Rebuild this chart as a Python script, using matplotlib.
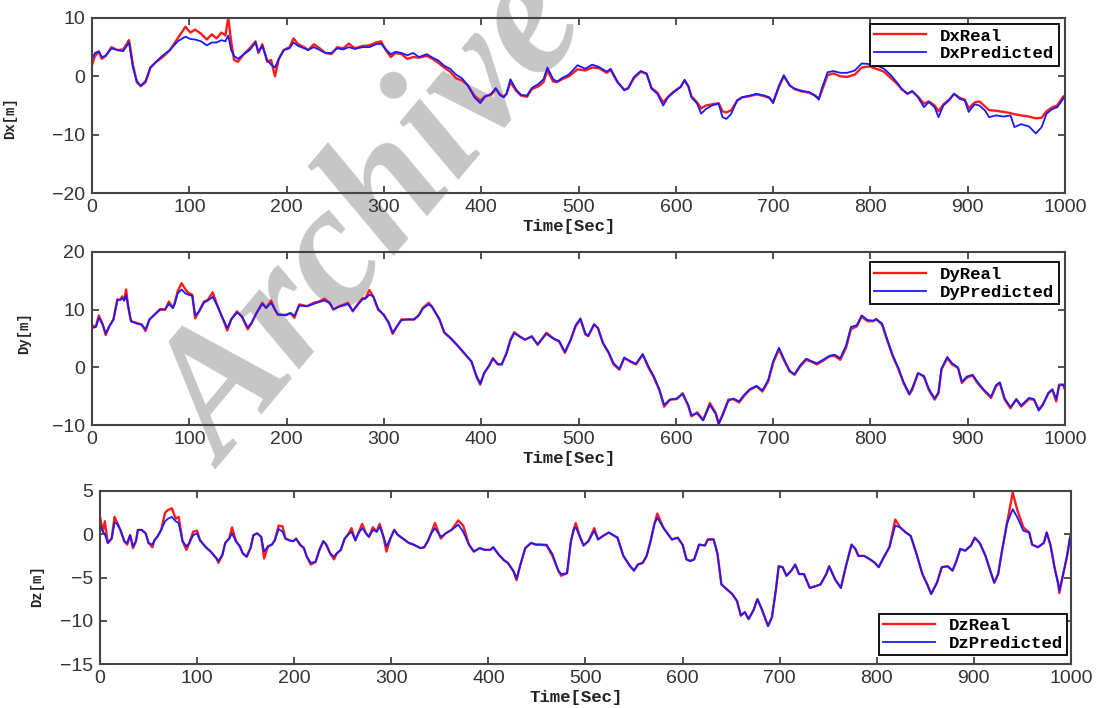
import matplotlib.pyplot as plt

# ---- Dx panel ----
t_x = [0, 3, 7, 10, 14, 20, 26, 32, 38, 42,
       46, 50, 55, 60, 66, 72, 80, 88, 96, 101,
       106, 112, 118, 123, 128, 133, 137, 140, 143, 146,
       150, 156, 162, 168, 171, 175, 180, 184, 188, 192,
       197, 203, 207, 212, 218, 222, 228, 234, 240, 246,
       252, 258, 264, 270, 278, 285, 292, 297, 302, 307,
       312, 318, 324, 330, 336, 344, 350, 356, 362, 368,
       374, 380, 386, 393, 399, 404, 410, 415, 419, 423,
       426, 430, 436, 441, 447, 452, 459, 464, 468, 474,
       478, 483, 490, 499, 507, 514, 521, 529, 533, 540,
       547, 551, 557, 564, 570, 575, 581, 587, 592, 598,
       605, 609, 613, 616, 622, 626, 631, 637, 644, 648,
       652, 657, 663, 668, 676, 683, 691, 696, 700, 706,
       711, 717, 722, 730, 737, 743, 747, 750, 756, 762,
       769, 776, 784, 791, 799, 806, 814, 821, 827, 832,
       838, 843, 849, 855, 860, 866, 870, 875, 881, 886,
       892, 897, 901, 907, 912, 918, 922, 929, 937, 944,
       948, 955, 963, 970, 976, 981, 987, 992, 998, 1000]
dx_real = [2.0, 3.5, 4.2, 3.0, 3.5, 5.0, 4.5, 4.6, 6.2, 2.0,
           -1.0, -1.7, -1.0, 1.5, 2.5, 3.2, 4.5, 6.5, 8.5, 7.5,
           8.0, 7.3, 6.3, 7.2, 6.5, 7.5, 7.0, 10.0, 6.0, 2.8,
           2.5, 3.8, 4.8, 6.0, 4.0, 5.5, 2.5, 2.8, 0.0, 3.0,
           4.5, 5.0, 6.5, 5.5, 5.0, 4.5, 5.5, 4.8, 4.0, 3.8,
           5.0, 4.8, 5.6, 4.8, 5.2, 5.3, 5.8, 6.0, 4.5, 3.3,
           4.0, 3.8, 3.0, 3.3, 3.2, 3.5, 3.0, 2.3, 1.5, 0.8,
           -0.3, -0.7, -1.5, -3.3, -4.2, -3.4, -3.2, -2.2, -3.0, -3.5,
           -3.0, -1.0, -2.5, -3.3, -3.5, -2.2, -1.7, -1.0, 1.0, -0.9,
           -1.0, -0.5, 0.0, 1.2, 1.0, 1.5, 1.4, 0.6, 1.1, -1.0,
           -2.3, -2.0, -0.3, 0.8, 0.4, -2.0, -2.8, -4.5, -3.5, -2.6,
           -1.8, -0.7, -1.8, -3.4, -4.5, -5.5, -5.0, -4.8, -4.6, -6.0,
           -6.2, -5.8, -4.2, -3.6, -3.4, -3.1, -3.4, -3.7, -4.4, -1.8,
           0.0, -1.5, -2.2, -2.6, -2.8, -3.3, -3.8, -2.5, 0.2, 0.5,
           0.0, -0.1, 0.3, 1.5, 1.7, 1.3, 0.8, -0.3, -1.2, -2.2,
           -3.0, -2.6, -3.5, -4.7, -4.3, -5.0, -6.0, -4.8, -4.0, -3.0,
           -3.7, -4.0, -5.5, -4.5, -4.3, -5.2, -5.8, -5.9, -6.1, -6.3,
           -6.5, -6.7, -6.9, -7.2, -7.1, -6.0, -5.3, -5.0, -3.5, -3.3]
dx_pred = [3.0, 4.0, 4.3, 3.3, 3.5, 4.8, 4.5, 4.3, 5.8, 1.5,
           -0.8, -1.6, -0.8, 1.5, 2.5, 3.5, 4.5, 6.0, 6.8, 6.4,
           6.3, 6.0, 5.3, 5.8, 5.8, 6.2, 6.0, 7.0, 4.5, 3.5,
           3.0, 3.8, 4.5, 5.8, 4.2, 5.2, 2.8, 2.0, 1.5, 3.0,
           4.5, 4.8, 5.8, 5.2, 4.8, 4.5, 5.0, 4.5, 4.0, 4.0,
           4.8, 4.6, 5.0, 4.7, 5.0, 5.0, 5.5, 5.6, 4.6, 3.8,
           4.2, 4.0, 3.6, 4.0, 3.3, 3.8, 3.2, 2.7, 1.8, 1.3,
           0.3, -0.3, -1.5, -3.6, -4.6, -3.5, -3.0, -2.0, -3.2, -3.6,
           -3.0, -0.5, -2.3, -3.2, -3.3, -2.0, -1.3, -0.5, 1.5, -0.5,
           -0.9, -0.3, 0.3, 1.9, 1.3, 2.0, 1.6, 0.8, 1.3, -0.9,
           -2.4, -2.1, -0.1, 0.9, 0.5, -2.1, -3.0, -5.0, -3.6, -2.7,
           -1.8, -0.6, -1.7, -3.6, -4.7, -6.4, -5.6, -5.0, -4.7, -7.0,
           -7.3, -6.4, -4.1, -3.6, -3.3, -3.0, -3.3, -3.6, -4.6, -1.6,
           0.2, -1.6, -2.1, -2.5, -2.7, -3.3, -4.0, -2.1, 0.7, 0.9,
           0.6, 0.6, 1.0, 2.2, 2.1, 1.9, 1.3, 0.2, -1.0, -2.1,
           -3.0, -2.5, -3.6, -5.3, -4.4, -5.3, -7.0, -5.0, -4.1, -3.0,
           -3.9, -4.1, -6.1, -4.8, -5.0, -5.9, -7.0, -6.7, -6.9, -6.7,
           -8.7, -8.2, -8.6, -9.8, -8.7, -6.4, -5.6, -5.3, -3.9, -3.3]

# ---- Dy panel ----
t_y = [0, 4, 7, 11, 14, 18, 22, 26, 29, 31,
       33, 35, 37, 40, 46, 51, 55, 59, 64, 70,
       75, 79, 83, 85, 88, 92, 96, 99, 103, 106,
       110, 115, 119, 124, 129, 134, 139, 143, 149, 154,
       160, 164, 169, 175, 179, 184, 188, 191, 199, 204,
       208, 213, 221, 228, 233, 239, 244, 248, 254, 259,
       263, 268, 274, 278, 281, 285, 289, 294, 300, 305,
       309, 313, 318, 325, 331, 336, 340, 346, 349, 357,
       362, 368, 375, 382, 390, 395, 399, 403, 408, 412,
       417, 421, 426, 430, 434, 439, 445, 452, 458, 467,
       475, 480, 486, 492, 497, 502, 507, 510, 516, 520,
       525, 531, 536, 542, 547, 553, 559, 566, 572, 577,
       583, 588, 594, 601, 607, 613, 616, 622, 628, 631,
       635, 641, 644, 648, 654, 659, 665, 670, 676, 683,
       689, 695, 700, 706, 711, 717, 722, 728, 734, 739,
       745, 750, 758, 763, 769, 775, 780, 786, 791, 797,
       803, 806, 812, 817, 823, 829, 834, 840, 843, 849,
       855, 860, 866, 870, 873, 879, 884, 890, 894, 899,
       905, 910, 916, 924, 929, 933, 938, 944, 950, 955,
       963, 968, 973, 977, 983, 987, 991, 994, 998, 1000]
dy_real = [7.2, 7.1, 9.0, 7.4, 5.6, 7.2, 8.3, 11.8, 11.7, 12.3,
           11.6, 13.5, 10.6, 8.0, 7.7, 7.4, 6.3, 8.3, 9.1, 10.1,
           10.0, 11.4, 10.3, 11.2, 13.2, 14.6, 13.5, 12.9, 12.6, 8.5,
           9.7, 11.4, 11.7, 13.0, 10.6, 8.6, 6.4, 8.3, 9.7, 8.8,
           6.6, 7.7, 9.4, 11.2, 10.3, 11.6, 10.0, 9.1, 9.1, 9.4,
           8.6, 10.9, 10.6, 11.2, 11.4, 11.9, 11.2, 10.0, 10.6, 10.9,
           11.2, 9.7, 11.2, 12.0, 12.0, 13.4, 12.3, 10.0, 9.1, 7.7,
           5.8, 7.0, 8.3, 8.3, 8.3, 9.1, 10.3, 11.2, 10.6, 8.3,
           6.0, 5.1, 3.9, 2.5, 1.0, -1.6, -3.0, -1.0, 0.2, 1.6,
           0.5, 0.5, 2.5, 4.8, 6.1, 5.4, 4.8, 5.4, 3.9, 6.0,
           4.9, 4.5, 2.5, 4.8, 7.1, 8.3, 5.7, 5.4, 7.4, 6.8,
           4.2, 2.5, 0.5, -0.4, 1.6, 1.0, 0.5, 2.2, -0.1, -1.6,
           -3.9, -6.8, -5.6, -5.5, -4.5, -6.8, -8.5, -7.8, -9.1, -7.9,
           -6.2, -7.9, -9.7, -8.2, -5.6, -5.5, -6.1, -5.0, -3.9, -3.3,
           -4.2, -2.4, 0.8, 3.1, 1.3, -0.7, -1.3, 0.2, 1.3, 1.0,
           0.5, 1.0, 1.9, 2.0, 1.3, 3.4, 6.6, 7.1, 8.8, 8.0,
           8.0, 8.4, 7.4, 4.8, 1.9, -0.4, -2.7, -4.7, -3.9, -1.0,
           -1.6, -3.9, -5.6, -4.5, -0.4, 1.6, 0.5, -0.1, -2.7, -1.8,
           -1.4, -2.7, -3.9, -5.3, -3.3, -2.7, -5.6, -7.1, -5.5, -6.8,
           -5.5, -5.6, -7.3, -6.5, -4.5, -3.9, -5.9, -3.0, -3.0, -3.9]
dy_pred = [6.8, 7.0, 8.6, 7.4, 5.9, 7.2, 8.3, 11.6, 11.7, 12.0,
           11.6, 12.5, 10.8, 8.0, 7.6, 7.4, 6.6, 8.3, 9.1, 10.0,
           10.0, 11.0, 10.3, 11.0, 12.8, 13.5, 12.8, 12.6, 12.4, 9.0,
           9.7, 11.2, 11.6, 12.2, 10.6, 8.6, 6.8, 8.3, 9.5, 8.8,
           6.9, 7.7, 9.4, 11.0, 10.3, 11.2, 10.0, 9.2, 9.0, 9.4,
           8.9, 10.7, 10.6, 11.0, 11.3, 11.6, 11.2, 10.1, 10.5, 10.8,
           11.0, 9.8, 11.0, 11.8, 11.9, 12.6, 12.3, 10.2, 9.0, 7.7,
           6.0, 7.0, 8.2, 8.3, 8.3, 9.0, 10.2, 10.9, 10.6, 8.4,
           6.1, 5.2, 3.9, 2.6, 1.0, -1.4, -2.8, -1.0, 0.3, 1.5,
           0.6, 0.5, 2.4, 4.6, 5.9, 5.4, 4.8, 5.3, 4.0, 5.8,
           4.9, 4.6, 2.7, 4.8, 7.3, 8.5, 5.9, 5.5, 7.5, 6.8,
           4.3, 2.6, 0.7, -0.3, 1.7, 1.1, 0.6, 2.3, 0.1, -1.4,
           -3.8, -6.5, -5.6, -5.4, -4.6, -6.6, -8.3, -8.0, -9.2, -8.1,
           -6.5, -8.1, -9.9, -8.4, -5.8, -5.4, -5.9, -4.8, -3.8, -3.2,
           -4.0, -2.2, 1.0, 3.4, 1.5, -0.6, -1.2, 0.4, 1.5, 1.1,
           0.7, 1.2, 2.0, 2.2, 1.6, 3.8, 7.0, 7.3, 9.0, 8.2,
           8.1, 8.3, 7.6, 5.0, 2.1, -0.2, -2.5, -4.6, -3.6, -1.0,
           -1.5, -3.7, -5.4, -4.3, -0.2, 1.8, 0.7, 0.0, -2.5, -1.6,
           -1.3, -2.5, -3.8, -5.1, -3.1, -2.6, -5.4, -6.9, -5.6, -6.6,
           -5.3, -5.5, -7.5, -6.6, -4.4, -3.8, -5.5, -3.2, -3.0, -3.5]

# ---- Dz panel ----
t_z = [0, 3, 5, 8, 12, 15, 17, 21, 25, 28,
       31, 34, 37, 39, 43, 47, 50, 54, 56, 59,
       63, 67, 70, 74, 78, 81, 85, 89, 92, 96,
       100, 103, 109, 114, 120, 122, 126, 129, 133, 136,
       140, 144, 147, 151, 155, 158, 162, 166, 169, 173,
       177, 180, 184, 188, 191, 195, 199, 202, 206, 210,
       213, 217, 222, 226, 230, 233, 237, 241, 244, 248,
       252, 255, 259, 263, 266, 270, 274, 277, 281, 285,
       288, 292, 295, 299, 303, 307, 312, 318, 323, 330,
       334, 338, 341, 345, 351, 356, 362, 369, 374, 380,
       385, 391, 396, 402, 405, 411, 416, 420, 426, 429,
       433, 438, 444, 449, 454, 460, 466, 472, 475, 481,
       485, 488, 490, 494, 498, 503, 509, 513, 518, 524,
       530, 533, 539, 546, 550, 554, 559, 563, 567, 571,
       574, 580, 585, 589, 595, 600, 604, 608, 612, 617,
       623, 626, 632, 636, 640, 645, 651, 656, 660, 664,
       668, 673, 677, 681, 684, 688, 692, 696, 699, 703,
       707, 712, 716, 720, 725, 731, 737, 742, 748, 751,
       757, 763, 768, 774, 778, 781, 787, 793, 798, 802,
       807, 813, 819, 824, 830, 835, 841, 847, 852, 856,
       862, 867, 873, 878, 882, 886, 891, 897, 901, 906,
       912, 918, 921, 925, 929, 934, 940, 945, 951, 957,
       960, 966, 972, 975, 979, 983, 987, 988, 992, 996,
       999, 1000]
dz_real = [2.0, 0.3, 1.5, -1.0, -0.5, 2.0, 1.5, 0.5, -0.8, -1.2,
           -0.1, -1.6, -0.8, 0.5, 0.5, 0.1, -1.0, -1.5, -0.7, -0.3,
           0.5, 2.5, 2.8, 3.0, 1.8, 2.0, -0.8, -1.8, -1.0, 0.3,
           0.4, -0.7, -1.5, -2.0, -2.8, -3.3, -2.4, -1.0, -0.5, 0.8,
           -0.8, -1.4, -2.2, -2.6, -1.6, -0.1, 0.1, -0.3, -2.8, -1.4,
           -1.2, -0.7, 1.0, 0.9, -0.5, -0.7, -0.8, -0.5, -1.2, -1.6,
           -2.6, -3.5, -3.2, -1.8, -0.8, -1.2, -2.2, -2.9, -2.2, -1.8,
           -0.5, -0.1, 0.7, -0.7, 0.1, 1.2, 0.1, -0.3, 0.8, 0.3,
           1.2, -0.3, -2.0, -0.5, 0.5, -0.1, -0.5, -1.0, -1.2, -1.6,
           -1.5, -0.7, 0.1, 1.3, -0.5, 0.1, 0.5, 1.6, 1.0, -1.2,
           -2.0, -1.6, -1.8, -1.8, -1.5, -2.4, -3.0, -3.3, -4.3, -5.3,
           -3.5, -1.6, -1.0, -1.2, -1.2, -1.3, -2.5, -4.2, -4.8, -4.5,
           -0.8, 0.6, 1.3, -0.2, -1.3, -0.8, 0.7, -0.6, -0.2, 0.2,
           -0.2, -0.4, -2.5, -3.7, -4.2, -3.5, -3.3, -2.5, -0.8, 1.2,
           2.4, 0.8, 0.0, -0.6, -0.4, -1.2, -2.9, -3.1, -2.9, -1.2,
           -1.3, -0.6, -0.6, -2.3, -5.8, -6.3, -6.9, -7.7, -9.4, -9.0,
           -9.8, -8.8, -7.5, -8.5, -9.4, -10.6, -9.6, -6.5, -3.7, -3.8,
           -4.8, -4.2, -3.5, -4.6, -4.6, -6.2, -6.0, -5.8, -4.6, -3.7,
           -5.2, -6.2, -3.8, -1.2, -1.7, -2.5, -2.5, -2.9, -3.3, -3.8,
           -2.7, -1.5, 1.7, 0.8, 0.2, -0.2, -2.3, -4.6, -5.8, -6.9,
           -5.6, -3.8, -3.7, -4.2, -3.1, -1.7, -1.9, -1.3, -0.4, -1.0,
           -2.5, -4.6, -5.6, -4.6, -1.9, 1.2, 4.8, 2.7, 0.8, 0.2,
           -1.2, -1.5, -1.0, 0.2, -1.3, -3.8, -5.8, -6.8, -4.6, -2.5,
           -0.4, 0.0]
dz_pred = [1.2, 0.3, 0.0, -1.0, -0.5, 1.3, 1.3, 0.5, -0.8, -1.0,
           -0.1, -1.4, -0.8, 0.5, 0.5, 0.1, -1.0, -1.2, -0.7, -0.3,
           0.5, 1.5, 1.8, 2.0, 1.5, 1.3, -0.8, -1.4, -1.0, -0.1,
           0.1, -0.7, -1.5, -2.0, -2.8, -3.1, -2.4, -1.0, -0.5, 0.1,
           -0.8, -1.4, -2.2, -2.6, -1.6, -0.1, 0.1, -0.3, -2.0, -1.4,
           -1.2, -0.7, 0.6, 0.3, -0.5, -0.7, -0.8, -0.5, -1.2, -1.6,
           -2.6, -3.3, -3.2, -1.8, -0.8, -1.2, -2.2, -2.6, -2.2, -1.8,
           -0.5, -0.1, 0.3, -0.7, 0.1, 0.7, 0.1, -0.3, 0.5, 0.3,
           0.9, -0.3, -1.4, -0.5, 0.5, -0.1, -0.5, -1.0, -1.2, -1.6,
           -1.5, -0.7, 0.1, 0.7, -0.3, 0.1, 0.5, 1.1, 0.3, -1.2,
           -2.0, -1.6, -1.8, -1.8, -1.5, -2.4, -3.0, -3.3, -4.3, -5.1,
           -3.5, -1.6, -1.0, -1.2, -1.2, -1.2, -2.3, -4.2, -4.6, -4.5,
           -0.8, 0.6, 0.8, -0.2, -1.3, -0.8, 0.4, -0.6, -0.2, 0.2,
           -0.2, -0.4, -2.5, -3.7, -4.2, -3.5, -3.3, -2.5, -0.8, 1.2,
           1.9, 0.8, 0.0, -0.6, -0.4, -1.2, -2.9, -3.1, -2.9, -1.2,
           -1.3, -0.6, -0.6, -2.3, -5.8, -6.3, -6.9, -7.7, -9.4, -9.0,
           -9.8, -8.8, -7.5, -8.5, -9.4, -10.6, -9.6, -6.5, -3.7, -3.8,
           -4.8, -4.2, -3.5, -4.6, -4.6, -6.2, -6.0, -5.8, -4.6, -3.7,
           -5.2, -6.2, -3.8, -1.2, -1.7, -2.5, -2.5, -2.9, -3.3, -3.8,
           -2.7, -1.5, 1.0, 0.8, 0.2, -0.2, -2.3, -4.6, -5.8, -6.9,
           -5.6, -3.8, -3.7, -4.2, -3.1, -1.7, -1.9, -1.3, -0.4, -1.0,
           -2.5, -4.6, -5.6, -4.6, -1.9, 1.2, 2.9, 1.9, 0.4, 0.2,
           -1.2, -1.5, -1.0, 0.2, -1.3, -3.8, -5.8, -6.5, -4.6, -2.5,
           -0.4, 0.0]

panels = [
    dict(t=t_x, real=dx_real, pred=dx_pred, name='Dx', ylim=(-20, 10),
         yticks=[-20, -10, 0, 10], rect=[0.0833, 0.7274, 0.8805, 0.2472],
         leg_loc='upper right', leg_anchor=(0.997, 0.985), ylab_x=-0.077, ylab_y=0.43),
    dict(t=t_y, real=dy_real, pred=dy_pred, name='Dy', ylim=(-10, 20),
         yticks=[-10, 0, 10, 20], rect=[0.0833, 0.3997, 0.8805, 0.2444],
         leg_loc='upper right', leg_anchor=(0.997, 0.96), ylab_x=-0.063, ylab_y=0.53),
    dict(t=t_z, real=dz_real, pred=dz_pred, name='Dz', ylim=(-15, 5),
         yticks=[-15, -10, -5, 0, 5], rect=[0.0905, 0.0621, 0.8787, 0.2444],
         leg_loc='lower right', leg_anchor=(1.0, 0.03), ylab_x=-0.058, ylab_y=0.45),
]

for p in panels:
    assert len(p['t']) == len(p['real']) == len(p['pred']), p['name']

fig = plt.figure(figsize=(11.05, 7.08), dpi=100)
fig.patch.set_facecolor('white')

mono = 'Liberation Mono'
sans = 'Liberation Sans'

for p in panels:
    ax = fig.add_axes(p['rect'])
    ax.set_facecolor('none')
    ax.plot(p['t'], p['real'], color='#ff1a1a', lw=1.7, label=p['name'] + 'Real')
    ax.plot(p['t'], p['pred'], color='#1a1aff', lw=1.3, label=p['name'] + 'Predicted')
    ax.set_xlim(0, 1000)
    ax.set_ylim(*p['ylim'])
    ax.set_xticks(range(0, 1001, 100))
    ax.set_yticks(p['yticks'])
    ax.tick_params(direction='in', length=5, width=1.2, top=True, right=True,
                   labelsize=14, colors='#333333')
    ax.tick_params(axis='x', pad=4)
    ax.tick_params(axis='y', pad=5)
    for lab in ax.get_xticklabels() + ax.get_yticklabels():
        lab.set_family(sans)
    for s in ax.spines.values():
        s.set_color('#444444')
        s.set_linewidth(1.5)
    ax.set_xlabel('Time[Sec]', fontfamily=mono, fontweight='bold', fontsize=12.5,
                  color='#222222')
    ax.xaxis.set_label_coords(0.49, -0.15)
    ax.set_ylabel(p['name'] + '[m]', fontfamily=mono, fontweight='bold', fontsize=10,
                  color='#222222')
    ax.yaxis.set_label_coords(p['ylab_x'], p['ylab_y'])
    leg = ax.legend(loc=p['leg_loc'], bbox_to_anchor=p['leg_anchor'],
                    prop={'family': mono, 'weight': 'bold', 'size': 12.5},
                    fancybox=False, edgecolor='black', framealpha=1,
                    handlelength=3.0, handletextpad=0.8, labelspacing=0.15,
                    borderpad=0.25, borderaxespad=0.2)
    leg.get_frame().set_linewidth(1.3)

# grey watermark behind the plots
fig.text(0.34, 0.685, 'Archive', rotation=50, fontsize=128, color='#c6c6c6',
         fontfamily='Liberation Serif', fontweight='bold', fontstyle='italic',
         ha='center', va='center', zorder=-1)

fig.savefig('out.png', dpi=100)
